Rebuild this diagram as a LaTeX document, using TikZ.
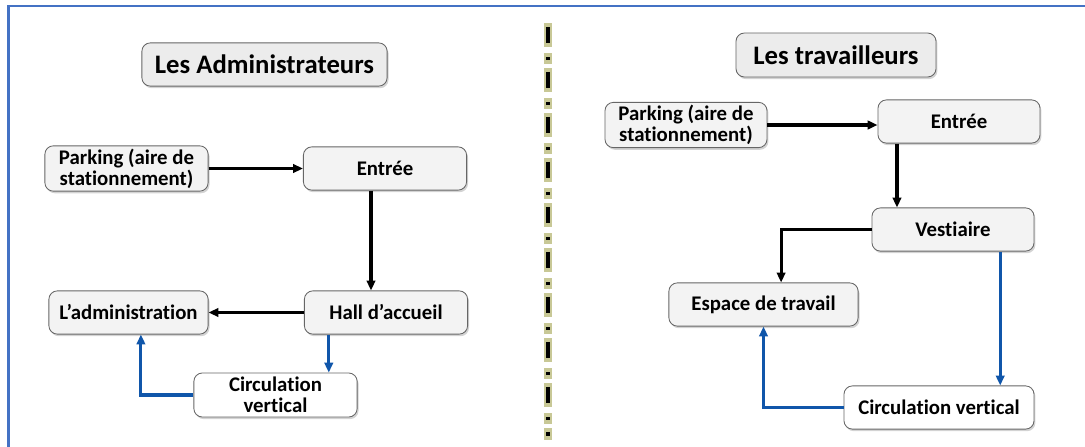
\documentclass[tikz,border=0pt]{standalone}
\usepackage{fontspec}
\setmainfont{Carlito}[Ligatures=NoCommon]
\usetikzlibrary{arrows.meta,shadows}

\definecolor{frameblue}{RGB}{68,114,196}
\definecolor{linkblue}{RGB}{16,86,170}
\definecolor{boxgray}{RGB}{243,243,243}
\definecolor{glow}{RGB}{200,200,150}

\begin{document}
\begin{tikzpicture}[
x=0.025cm, y=-0.025cm,
box/.style={rectangle, rounded corners=6pt, draw=black!60, fill=boxgray, line width=0.6pt,
  drop shadow={opacity=0.35, shadow xshift=1pt, shadow yshift=-1.5pt},
  font=\bfseries\fontsize{14.8}{15}\selectfont, align=center,
  minimum width=4.08cm, minimum height=1.08cm, inner sep=2pt},
whitebox/.style={box, fill=white},
titlebox/.style={box, fill=boxgray!97!black, font=\bfseries\fontsize{19}{20}\selectfont},
arr/.style={-{Triangle[length=7pt,width=6pt]}, line width=2.2pt, black},
barr/.style={-{Triangle[length=7pt,width=6pt]}, line width=2.2pt, linkblue},
]
\useasboundingbox (0,0) rectangle (1085,447);
% frame
\draw[frameblue, line width=1.5pt] (8.5,447) -- (8.5,6) -- (1085,6);

% divider
\draw[glow, line width=5.5pt, line cap=rect,
  dash pattern=on 11.4pt off 10pt on 2.1pt off 8.5pt] (548,27) -- (548,436);
\draw[black, line width=3.4pt,
  dash pattern=on 11.4pt off 10pt on 2.1pt off 8.5pt] (548,27) -- (548,436);

% les administrateurs
\node[titlebox, minimum width=6.13cm] (T1) at (264.5,64.5) {Les Administrateurs};
\node[box] (park1) at (126.5,168.5) {Parking (aire de\\stationnement)};
\node[box] (entree1) at (385,168.5) {Entrée};
\node[box, minimum width=3.98cm] (admin1) at (128.5,312.5) {L’administration};
\node[box] (hall1) at (386,312.5) {Hall d’accueil};
\node[whitebox, minimum height=1.1cm] (circ1) at (275.5,395) {Circulation\\vertical};

\draw[arr] (park1) -- (entree1);
\draw[arr, line width=2.8pt] ([xshift=-0.35cm]entree1.south) -- ([xshift=-0.35cm]entree1.south |- hall1.north);
\draw[arr] (hall1) -- (admin1);
\draw[barr] ([xshift=-1.43cm]hall1.south) -- ([xshift=-1.43cm]hall1.south |- circ1.north);
\draw[barr] (circ1.west) -| ([xshift=0.31cm]admin1.south);

% les travailleurs
\node[titlebox, minimum width=5cm, minimum height=1.1cm] (T2) at (836,55) {Les travailleurs};
\node[box, minimum width=4.05cm, minimum height=1.1cm] (park2) at (686,125) {Parking (aire de\\stationnement)};
\node[box, minimum width=4.05cm] (entree2) at (959,121.5) {Entrée};
\node[box, minimum width=4.05cm] (vest2) at (953,229.5) {Vestiaire};
\node[box, minimum width=4.73cm] (espace2) at (763.5,304.5) {Espace de travail};
\node[whitebox, minimum width=4.75cm] (circ2) at (939,407.5) {Circulation vertical};

\draw[arr] (park2.east) -- (park2.east -| entree2.west);
\draw[arr] ([xshift=-1.55cm]entree2.south) -- ([xshift=-1.55cm]entree2.south |- vest2.north);
\draw[arr] (vest2.west) -| ([xshift=0.44cm]espace2.north);
\draw[barr] ([xshift=1.18cm]vest2.south) -- ([xshift=1.18cm]vest2.south |- circ2.north);
\draw[barr] (circ2.west) -| (espace2.south);
\end{tikzpicture}
\end{document}
